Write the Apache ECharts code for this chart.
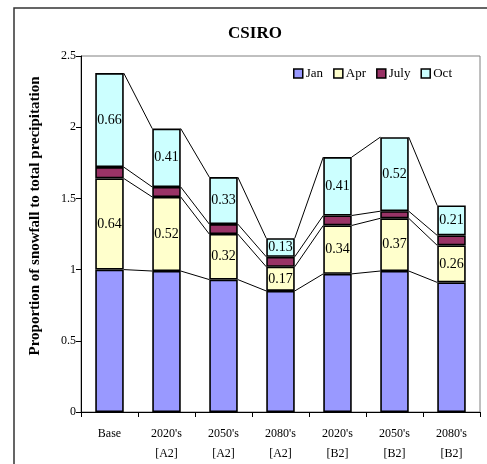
<!DOCTYPE html>
<html>
<head>
<meta charset="utf-8">
<script src="https://cdn.jsdelivr.net/npm/echarts@6/dist/echarts.min.js"></script>
<style>html,body{margin:0;padding:0;background:#fff}#c{width:487px;height:464px}</style>
</head>
<body>
<div id="c"></div>
<script>
const categories = ["Base", "2020's\n[A2]", "2050's\n[A2]", "2080's\n[A2]", "2020's\n[B2]", "2050's\n[B2]", "2080's\n[B2]"];
const jan  = [1.00, 0.99, 0.93, 0.85, 0.97, 0.99, 0.91];
const apr  = [0.64, 0.52, 0.32, 0.17, 0.34, 0.37, 0.26];
const july = [0.08, 0.07, 0.07, 0.07, 0.07, 0.05, 0.07];
const oct  = [0.66, 0.41, 0.33, 0.13, 0.41, 0.52, 0.21];
const yTicks = [0, 0.5, 1, 1.5, 2, 2.5];

const FONT = "'Liberation Serif', 'Times New Roman', serif";
const seriesList = [
  {name: 'Jan', data: jan, color: '#9999FF', label: false},
  {name: 'Apr', data: apr, color: '#FFFFCC', label: true},
  {name: 'July', data: july, color: '#993366', label: false},
  {name: 'Oct', data: oct, color: '#CCFFFF', label: true}
];

// cumulative tops for series lines
function cumAt(i) {
  const out = []; let s = 0;
  seriesList.forEach(sr => { s += sr.data[i]; out.push(s); });
  return out;
}

const chart = echarts.init(document.getElementById('c'), null, {renderer: 'canvas'});
const barSeries = seriesList.map(sr => ({
  name: sr.name,
  type: 'bar',
  stack: 'total',
  barCategoryGap: '50%',
  data: sr.data,
  itemStyle: {color: sr.color, borderColor: '#000', borderWidth: 1.6},
  label: {
    show: sr.label,
    position: 'inside',
    color: '#000',
    fontFamily: FONT,
    fontSize: 14,
    formatter: p => p.value.toFixed(2)
  },
  emphasis: {disabled: true},
  z: 3
}));

const lineSeries = {
  type: 'custom',
  name: 'serieslines',
  data: categories.slice(0, -1).map((c, i) => [i, 0]),
  renderItem: function (params, api) {
    const i = params.dataIndex;
    const band = api.size([1, 0])[0];
    const half = band * 0.25;
    const a = cumAt(i), b = cumAt(i + 1);
    const children = a.map((v, k) => {
      const p1 = api.coord([i, v]);
      const p2 = api.coord([i + 1, b[k]]);
      return {
        type: 'line',
        shape: {x1: p1[0] + half, y1: p1[1], x2: p2[0] - half, y2: p2[1]},
        style: {stroke: '#000', lineWidth: 1}
      };
    });
    return {type: 'group', children};
  },
  silent: true,
  z: 2
};

chart.setOption({
  animation: false,
  backgroundColor: '#fff',
  title: {
    text: 'CSIRO',
    left: 255, top: 25, padding: 0,
    textAlign: 'center',
    textStyle: {fontFamily: FONT, fontWeight: 'bold', fontSize: 17, color: '#000'}
  },
  legend: {
    data: seriesList.map(s => s.name),
    left: 293, top: 67, padding: 0,
    itemWidth: 9, itemHeight: 9, itemGap: 10,
    icon: 'rect',
    itemStyle: {borderColor: '#000', borderWidth: 1.5},
    textStyle: {fontFamily: FONT, fontSize: 13, color: '#000', padding: [0, 0, 0, -2]}
  },
  grid: {
    left: 81, right: 7, top: 56, bottom: 50,
    show: true, borderColor: '#808080', borderWidth: 1, backgroundColor: 'transparent'
  },
  xAxis: {
    type: 'category',
    data: categories,
    boundaryGap: true,
    axisLine: {show: true, lineStyle: {color: '#000', width: 1}},
    axisTick: {show: true, length: 5, lineStyle: {color: '#000'}},
    axisLabel: {fontFamily: FONT, fontSize: 12, color: '#000', lineHeight: 20, margin: 12, interval: 0}
  },
  yAxis: {
    type: 'value',
    min: yTicks[0], max: yTicks[yTicks.length - 1], interval: 0.5,
    axisLine: {show: true, lineStyle: {color: '#000', width: 1}},
    axisTick: {show: true, length: 5, lineStyle: {color: '#000'}},
    splitLine: {show: false},
    axisLabel: {fontFamily: FONT, fontSize: 12, color: '#000', margin: 5}
  },
  graphic: [
    {
      type: 'rect', silent: true,
      shape: {x: 14, y: 8, width: 700, height: 700},
      style: {fill: 'none', stroke: '#333', lineWidth: 1.5}
    },
    {
      type: 'text', silent: true,
      x: 35, y: 216, rotation: Math.PI / 2,
      style: {
        text: 'Proportion of snowfall to total precipitation',
        font: "bold 15px 'Liberation Serif', 'Times New Roman', serif",
        fill: '#000', textAlign: 'center', textVerticalAlign: 'middle'
      }
    }
  ],
  series: [...barSeries, lineSeries]
});
</script>
</body>
</html>
